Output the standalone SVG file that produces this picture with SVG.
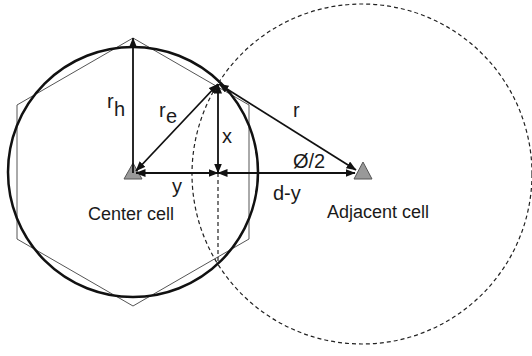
<svg xmlns="http://www.w3.org/2000/svg" width="532" height="356" viewBox="0 0 532 356">
<style>
text{font-family:"Liberation Sans",Arial,sans-serif;fill:#1a1a1a;font-size:20px}
.cell{font-size:18px}
.arr{stroke:#111;stroke-width:1.8;fill:none;marker-start:url(#ah);marker-end:url(#ah)}
.tri{fill:#999;stroke:#555;stroke-width:1}
</style>
<defs>
<marker id="ah" viewBox="0 0 10 8" refX="9.5" refY="4" markerWidth="10" markerHeight="8" markerUnits="userSpaceOnUse" orient="auto-start-reverse">
<path d="M0,0 L10,4 L0,8 Z" fill="#111"/>
</marker>
</defs>
<rect width="532" height="356" fill="#fff"/>
<g id="center-cell">
<polygon points="133,38 249,105 249,239 133,306 17,239 17,105" fill="none" stroke="#555" stroke-width="1"/>
<circle cx="133" cy="172" r="125" fill="none" stroke="#111" stroke-width="2.5"/>
<polygon class="tri" points="133,163 142,179 124,179"/>
<text class="cell" x="88" y="220">Center cell</text>
</g>
<g id="adjacent-cell">
<circle cx="362" cy="174" r="170" fill="none" stroke="#222" stroke-width="1.2" stroke-dasharray="4,3"/>
<polygon class="tri" points="363,162 372,179 354,179"/>
<text class="cell" x="327" y="218">Adjacent cell</text>
</g>
<g id="connectors">
<line x1="218" y1="173" x2="218" y2="262" stroke="#222" stroke-width="1.2" stroke-dasharray="4,3"/>
<line x1="133" y1="173" x2="133" y2="38" stroke="#111" stroke-width="1.8" marker-end="url(#ah)"/>
<line class="arr" x1="136" y1="171" x2="218" y2="84"/>
<line class="arr" x1="218" y1="84" x2="218" y2="173"/>
<line class="arr" x1="136" y1="173" x2="218" y2="173"/>
<line class="arr" x1="218" y1="173" x2="355" y2="173"/>
<line class="arr" x1="219" y1="84" x2="356" y2="170"/>
</g>
<g id="labels">
<text x="107" y="108">r</text><text x="114" y="116">h</text>
<text x="159" y="117">r</text><text x="166" y="123">e</text>
<text x="222" y="143">x</text>
<text x="172" y="193">y</text>
<text x="293" y="117">r</text>
<text x="293" y="168" font-size="21">Ø/2</text>
<text x="273" y="200">d-y</text>
</g>
</svg>
